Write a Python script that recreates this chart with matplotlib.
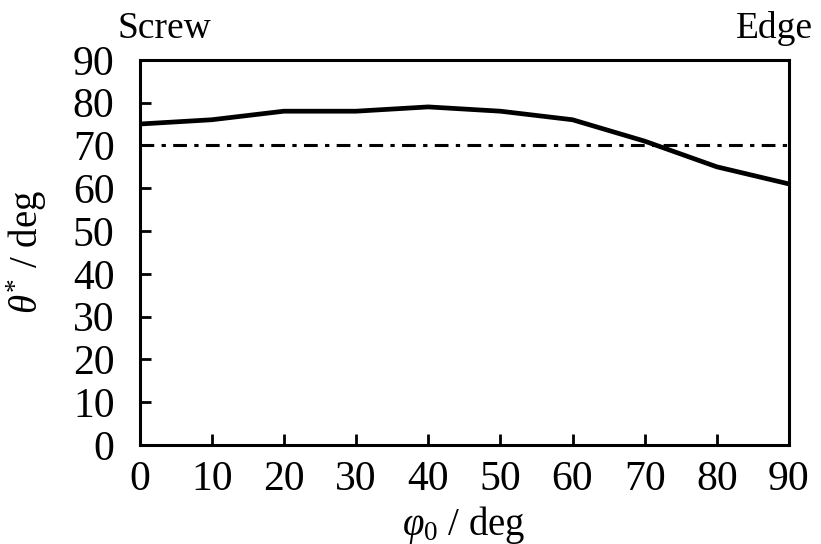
import matplotlib
matplotlib.use("Agg")
import matplotlib.pyplot as plt

plt.rcParams['font.family'] = ['Liberation Serif', 'DejaVu Serif']
plt.rcParams['mathtext.fontset'] = 'custom'
plt.rcParams['mathtext.rm'] = 'Liberation Serif'
plt.rcParams['mathtext.it'] = 'Liberation Serif:italic'

# values
phi0 = [0, 10, 20, 30, 40, 50, 60, 70, 80, 90]
theta_star = [75, 76, 78, 78, 79, 78, 76, 71, 65, 61]
threshold = 70

fig = plt.figure(figsize=(8.21, 5.44), dpi=100)
ax = fig.add_axes([0.17, 0.182, 0.791, 0.708])

ax.plot(phi0, theta_star, color='black', lw=3.4)
ax.axhline(threshold, color='black', lw=2.2, linestyle=(0, (4.5, 2.4, 1.4, 2.4)))

ax.set_xlim(0, 90)
ax.set_ylim(0, 90)
ax.set_xticks(range(0, 91, 10))
ax.set_yticks(range(0, 91, 10))
ax.tick_params(direction='in', length=8, width=2, labelsize=30)
ax.tick_params(axis='x', pad=11)
ax.tick_params(axis='y', pad=18)
for s in ax.spines.values():
    s.set_linewidth(2.2)

ax.set_xlabel(r'$\varphi_{\mathit{0}}$ / deg', fontsize=28)
ax.xaxis.set_label_coords(0.5, -0.152)
ax.set_ylabel(r'$\theta^{*}$ / deg', fontsize=28)
ax.yaxis.set_label_coords(-0.14, 0.5)

ax.text(0.038, 1.057, 'Screw', transform=ax.transAxes, fontsize=27, ha='center', va='baseline')
ax.text(0.978, 1.057, 'Edge', transform=ax.transAxes, fontsize=27, ha='center', va='baseline')

fig.savefig('out.png', dpi=100)
